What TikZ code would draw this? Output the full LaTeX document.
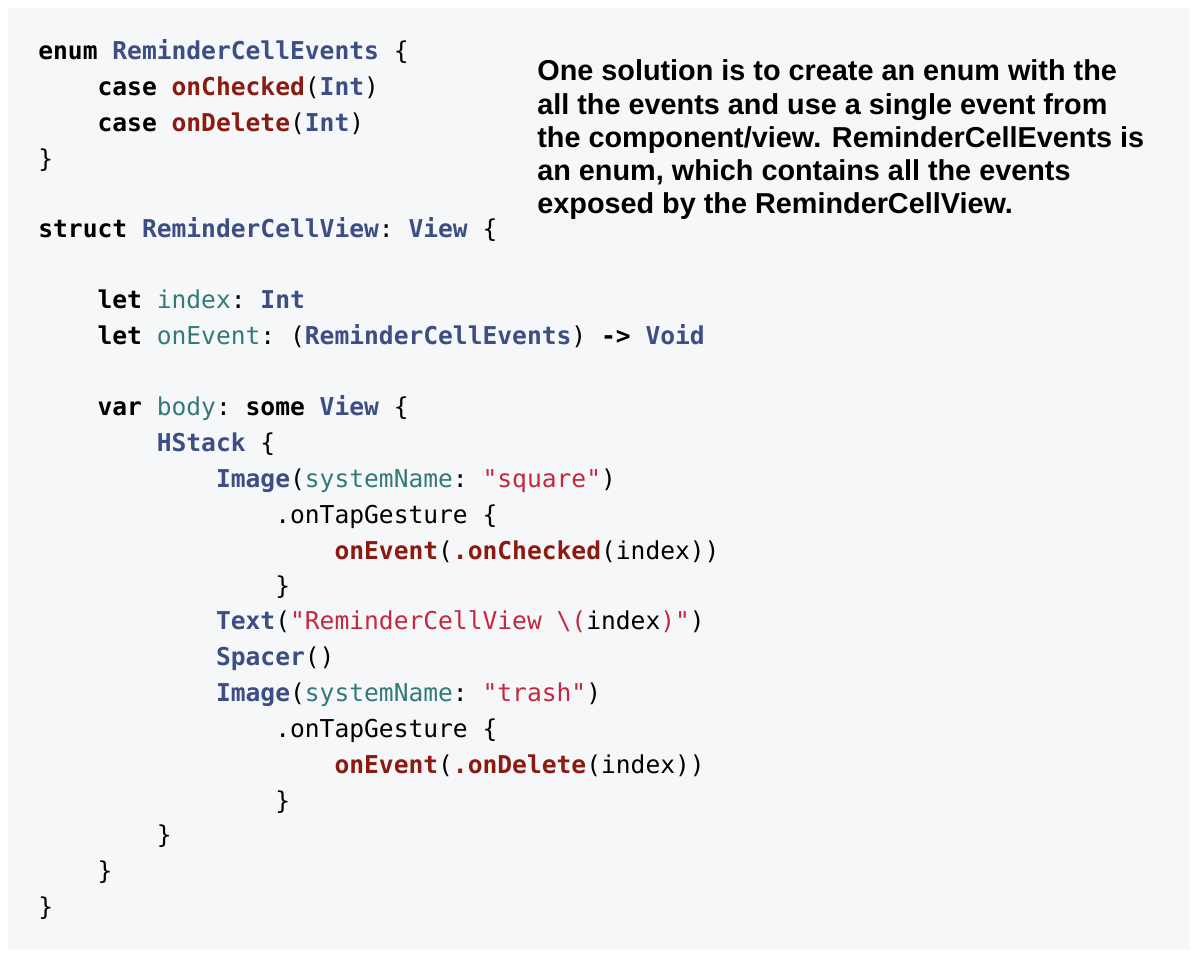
\documentclass[tikz,border=0pt]{standalone}
\usepackage{fontspec}
\setmainfont{Liberation Sans}
\setmonofont{DejaVu Sans Mono}
\definecolor{codebg}{RGB}{246,247,249}
\definecolor{tyblue}{RGB}{60,78,132}
\definecolor{prteal}{RGB}{52,122,120}
\definecolor{strred}{RGB}{196,40,63}
\definecolor{fndark}{RGB}{139,26,16}
\newcommand{\kw}[1]{\textbf{#1}}
\newcommand{\ty}[1]{\textcolor{tyblue}{\textbf{#1}}}
\newcommand{\pr}[1]{\textcolor{prteal}{#1}}
\newcommand{\st}[1]{\textcolor{strred}{#1}}
\newcommand{\fn}[1]{\textcolor{fndark}{\textbf{#1}}}
\tikzset{
  code/.style={anchor=mid west,inner sep=0pt,yshift=-0.09cm,font=\ttfamily\fontsize{14}{16}\selectfont},
  note/.style={anchor=mid west,inner sep=0pt,yshift=-0.08cm,font=\fontsize{16.4}{18}\selectfont\bfseries}
}
\begin{document}
\begin{tikzpicture}[x=0.02cm,y=-0.02cm]
  \useasboundingbox (0,0) rectangle (1200,962);
  \fill[codebg] (8,8) rectangle (1190,950);
  % code lines:
  \node[code] (l1) at (38,50) {\kw{enum} \ty{ReminderCellEvents} \{};
  \node[code] (l2) at (38,86) {\ \ \ \ \kw{case} \fn{onChecked}(\ty{Int})};
  \node[code] (l3) at (38,122) {\ \ \ \ \kw{case} \fn{onDelete}(\ty{Int})};
  \node[code] (l4) at (38,158) {\}};
  \node[code] (l5) at (38,228) {\kw{struct} \ty{ReminderCellView}: \ty{View} \{};
  \node[code] (l6) at (38,299) {\ \ \ \ \kw{let} \pr{index}: \ty{Int}};
  \node[code] (l7) at (38,335) {\ \ \ \ \kw{let} \pr{onEvent}: (\ty{ReminderCellEvents}) \kw{->} \ty{Void}};
  \node[code] (l8) at (38,406) {\ \ \ \ \kw{var} \pr{body}: \kw{some} \ty{View} \{};
  \node[code] (l9) at (38,442) {\ \ \ \ \ \ \ \ \ty{HStack} \{};
  \node[code] (l10) at (38,478) {\ \ \ \ \ \ \ \ \ \ \ \ \ty{Image}(\pr{systemName}: \st{"square"})};
  \node[code] (l11) at (38,514) {\ \ \ \ \ \ \ \ \ \ \ \ \ \ \ \ .onTapGesture \{};
  \node[code] (l12) at (38,550) {\ \ \ \ \ \ \ \ \ \ \ \ \ \ \ \ \ \ \ \ \fn{onEvent}(\fn{.onChecked}(index))};
  \node[code] (l13) at (38,585) {\ \ \ \ \ \ \ \ \ \ \ \ \ \ \ \ \}};
  \node[code] (l14) at (38,620) {\ \ \ \ \ \ \ \ \ \ \ \ \ty{Text}(\st{"ReminderCellView \textbackslash(}index\st{)"})};
  \node[code] (l15) at (38,656) {\ \ \ \ \ \ \ \ \ \ \ \ \ty{Spacer}()};
  \node[code] (l16) at (38,692) {\ \ \ \ \ \ \ \ \ \ \ \ \ty{Image}(\pr{systemName}: \st{"trash"})};
  \node[code] (l17) at (38,728) {\ \ \ \ \ \ \ \ \ \ \ \ \ \ \ \ .onTapGesture \{};
  \node[code] (l18) at (38,764) {\ \ \ \ \ \ \ \ \ \ \ \ \ \ \ \ \ \ \ \ \fn{onEvent}(\fn{.onDelete}(index))};
  \node[code] (l19) at (38,800) {\ \ \ \ \ \ \ \ \ \ \ \ \ \ \ \ \}};
  \node[code] (l20) at (38,834) {\ \ \ \ \ \ \ \ \}};
  \node[code] (l21) at (38,870) {\ \ \ \ \}};
  \node[code] (l22) at (38,906) {\}};
  % note:
  \node[note] (n1) at (537,72) {One solution is to create an enum with the};
  \node[note] (n2) at (537,106) {all the events and use a single event from};
  \node[note] (n3) at (537,139) {the component/view. ReminderCellEvents is};
  \node[note] (n4) at (537,172) {an enum, which contains all the events};
  \node[note] (n5) at (537,205) {exposed by the ReminderCellView.};
\end{tikzpicture}
\end{document}
